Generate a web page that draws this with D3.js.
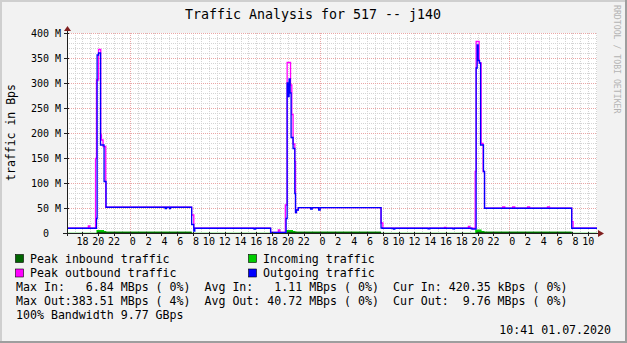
<!DOCTYPE html>
<html>
<head>
<meta charset="utf-8">
<script src="https://cdn.jsdelivr.net/npm/d3@7/dist/d3.min.js"></script>
<style>
  body { margin: 0; background: #f2f2f2; }
  text { font-family: "DejaVu Sans Mono", monospace; white-space: pre; }
</style>
</head>
<body>
<div id="chart"></div>
<script>
// hours are counted from the first midnight on the chart, values in MBps
var outData = [[-7.95, 9.5], [-4.22, 29], [-4.14, 356], [-3.96, 360], [-3.71, 176], [-3.26, 103], [-3.01, 51.5],
  [4.47, 49], [4.63, 51.5], [5.01, 49], [5.14, 51.5], [7.82, 17], [8.09, 4], [8.22, 9.5], [15.71, 8], [15.9, 9.5],
  [17.81, 1], [19.77, 29], [19.90, 300], [20.03, 273], [20.15, 308], [20.28, 280], [20.40, 191], [20.65, 169],
  [20.87, 79], [20.96, 41], [21.08, 46], [21.31, 50.7], [22.88, 48], [23.07, 50.7], [23.89, 46], [24.08, 50.7],
  [31.78, 10], [31.94, 9.5], [33.33, 8], [33.52, 9.5], [37.73, 8.5], [37.92, 9.5], [40.88, 8.5], [41.07, 9.5],
  [43.27, 8], [43.81, 330], [43.94, 376], [44.07, 345], [44.24, 340], [44.37, 176], [44.74, 123], [44.87, 49.5],
  [55.9, 9.5], [59.1, 9.5]];

var peakOutData = [[-7.95, 9.5], [-5.25, 14], [-5.06, 9.5], [-4.34, 149], [-4.22, 306], [-3.96, 367], [-3.68, 196],
  [-3.59, 186], [-3.39, 173], [-3.05, 51.5], [7.82, 36], [8.09, 9.5], [17.81, 1], [18.79, 6], [18.98, 1],
  [19.67, 56], [19.90, 341], [20.33, 296], [20.49, 237], [20.65, 178], [20.87, 143], [20.96, 41], [21.08, 46],
  [21.31, 50.7], [31.78, 20], [32.01, 9.5], [39.81, 11], [40.0, 9.5], [42.83, 13], [43.02, 9.5], [43.69, 123],
  [43.81, 383], [44.19, 340], [44.44, 179], [44.69, 123], [44.87, 49.5], [47.17, 52], [47.43, 49.5],
  [48.43, 52], [48.69, 49.5], [50.32, 52], [50.57, 49.5], [52.84, 52], [53.09, 49.5], [55.9, 22.7],
  [56.07, 9.5], [59.1, 9.5]];

var inData = [[-7.95, 0.4], [-4.22, 6], [-3.26, 4], [-3.01, 2.5], [7.82, 0.4], [19.77, 6], [20.65, 4],
  [20.96, 2.5], [31.78, 0.4], [43.69, 6.8], [44.5, 4], [44.87, 2.5], [55.9, 0.4], [59.1, 0.4]];

var peakInData = [[-7.95, 0], [-4.14, 2.5], [7.82, 0], [19.9, 2.5], [31.78, 0], [43.81, 2.5], [55.9, 0], [59.1, 0]];

var yTicks = [0, 50, 100, 150, 200, 250, 300, 350, 400];
var yTickLabels = ["0  ", "50 M", "100 M", "150 M", "200 M", "250 M", "300 M", "350 M", "400 M"];
var xLabelHours = d3.range(-6, 59, 2);

var legendItems = [
  { name: "Peak inbound traffic", color: "#006600" },
  { name: "Incoming traffic", color: "#00cc00" },
  { name: "Peak outbound traffic", color: "#ff00ff" },
  { name: "Outgoing traffic", color: "#0000ff" }
];
var statLines = [
  "Max In:   6.84 MBps ( 0%)  Avg In:   1.11 MBps ( 0%)  Cur In: 420.35 kBps ( 0%)",
  "Max Out:383.51 MBps ( 4%)  Avg Out: 40.72 MBps ( 0%)  Cur Out:  9.76 MBps ( 0%)",
  "100% Bandwidth 9.77 GBps"
];

var W = 627, H = 343;
var pLeft = 67, pRight = 597, pTop = 33, pBottom = 233;

var svg = d3.select('#chart').append('svg')
  .attr('width', W)
  .attr('height', H);

// background and 3d frame
svg.append('rect').attr('width', W).attr('height', H).attr('fill', '#f2f2f2');
svg.append('rect').attr('x', 0).attr('y', 0).attr('width', W).attr('height', 2).attr('fill', '#cfcfcf');
svg.append('rect').attr('x', 0).attr('y', 0).attr('width', 2).attr('height', H).attr('fill', '#cfcfcf');
svg.append('rect').attr('x', 0).attr('y', H - 2).attr('width', W).attr('height', 2).attr('fill', '#9e9e9e');
svg.append('rect').attr('x', W - 2).attr('y', 0).attr('width', 2).attr('height', H).attr('fill', '#9e9e9e');

var x = d3.scaleLinear().domain([-7.95, 59.1]).range([pLeft, pRight]);
var y = d3.scaleLinear().domain([0, 400]).range([pBottom, pTop]);

svg.append('rect')
  .attr('x', pLeft).attr('y', pTop)
  .attr('width', pRight - pLeft).attr('height', pBottom - pTop)
  .attr('fill', '#ffffff');

// grid
var grid = svg.append('g').attr('shape-rendering', 'crispEdges');
var hourLines = d3.range(-7, 60);
grid.selectAll('line.vmin')
  .data(hourLines.filter(function(h){ return h % 24 !== 0; }))
  .enter().append('line')
  .attr('x1', function(d){ return Math.round(x(d)) + 0.5; })
  .attr('x2', function(d){ return Math.round(x(d)) + 0.5; })
  .attr('y1', pTop).attr('y2', pBottom)
  .attr('stroke', '#d4d4d4').attr('stroke-dasharray', '1,1');
grid.selectAll('line.hmin')
  .data(d3.range(10, 401, 10).filter(function(v){ return v % 50 !== 0; }))
  .enter().append('line')
  .attr('x1', pLeft).attr('x2', pRight)
  .attr('y1', function(d){ return Math.round(y(d)) + 0.5; })
  .attr('y2', function(d){ return Math.round(y(d)) + 0.5; })
  .attr('stroke', '#d4d4d4').attr('stroke-dasharray', '1,1');
grid.selectAll('line.vmaj')
  .data(hourLines.filter(function(h){ return h % 24 === 0; }))
  .enter().append('line')
  .attr('x1', function(d){ return Math.round(x(d)) + 0.5; })
  .attr('x2', function(d){ return Math.round(x(d)) + 0.5; })
  .attr('y1', pTop).attr('y2', pBottom)
  .attr('stroke', '#eaa6a6').attr('stroke-dasharray', '1,1');
grid.selectAll('line.hmaj')
  .data(yTicks.filter(function(v){ return v > 0; }))
  .enter().append('line')
  .attr('x1', pLeft).attr('x2', pRight)
  .attr('y1', function(d){ return Math.round(y(d)) + 0.5; })
  .attr('y2', function(d){ return Math.round(y(d)) + 0.5; })
  .attr('stroke', '#eaa6a6').attr('stroke-dasharray', '1,1');

// data
var plot = svg.append('g');
var area = d3.area()
  .x(function(d){ return x(d[0]); })
  .y0(y(0))
  .y1(function(d){ return y(d[1]); })
  .curve(d3.curveStepAfter);
var line = d3.line()
  .x(function(d){ return x(d[0]); })
  .y(function(d){ return y(d[1]); })
  .curve(d3.curveStepAfter);

plot.append('path').attr('d', area(inData)).attr('fill', '#00cc00');
plot.append('path').attr('d', area(peakInData)).attr('fill', '#006600');
plot.append('path').attr('d', line(peakOutData))
  .attr('fill', 'none').attr('stroke', '#ff00ff').attr('stroke-width', 1.3);
plot.append('path').attr('d', line(outData))
  .attr('fill', 'none').attr('stroke', '#0000ff').attr('stroke-width', 1.3);

// axes
var axes = svg.append('g').attr('shape-rendering', 'crispEdges');
axes.append('line')
  .attr('x1', pLeft - 4).attr('x2', pRight + 2)
  .attr('y1', pBottom + 0.5).attr('y2', pBottom + 0.5)
  .attr('stroke', '#1f1f1f');
axes.append('line')
  .attr('x1', pLeft + 0.5).attr('x2', pLeft + 0.5)
  .attr('y1', pBottom + 3).attr('y2', pTop - 3)
  .attr('stroke', '#1f1f1f');
axes.selectAll('line.xt')
  .data(xLabelHours)
  .enter().append('line')
  .attr('x1', function(d){ return Math.round(x(d)) + 0.5; })
  .attr('x2', function(d){ return Math.round(x(d)) + 0.5; })
  .attr('y1', pBottom - 1).attr('y2', pBottom + 3)
  .attr('stroke', '#1f1f1f');
axes.selectAll('line.yt')
  .data(yTicks)
  .enter().append('line')
  .attr('x1', pLeft - 3).attr('x2', pLeft + 2)
  .attr('y1', function(d){ return Math.round(y(d)) + 0.5; })
  .attr('y2', function(d){ return Math.round(y(d)) + 0.5; })
  .attr('stroke', '#1f1f1f');
svg.append('path')
  .attr('d', 'M' + (pRight + 1) + ',' + (pBottom - 3) + 'L' + (pRight + 7) + ',' + (pBottom + 0.5) + 'L' + (pRight + 1) + ',' + (pBottom + 4) + 'Z')
  .attr('fill', '#801f1f');
svg.append('path')
  .attr('d', 'M' + (pLeft - 3) + ',' + (pTop - 2) + 'L' + (pLeft + 0.5) + ',' + (pTop - 7) + 'L' + (pLeft + 4) + ',' + (pTop - 2) + 'Z')
  .attr('fill', '#801f1f');

// tick labels
svg.selectAll('text.ylab')
  .data(yTicks)
  .enter().append('text')
  .attr('x', 61)
  .attr('y', function(d){ return y(d) + 3.7; })
  .attr('text-anchor', 'end')
  .attr('font-size', 10)
  .text(function(d, i){ return yTickLabels[i]; });

svg.selectAll('text.xlab')
  .data(xLabelHours)
  .enter().append('text')
  .attr('x', function(d){ return x(d); })
  .attr('y', 245)
  .attr('text-anchor', 'middle')
  .attr('font-size', 10)
  .text(function(d){
    var h = ((d % 24) + 24) % 24;
    return (h < 10 ? ' ' : '') + h;
  });

// title, axis title, watermark
svg.append('text')
  .attr('x', 313).attr('y', 18.5)
  .attr('text-anchor', 'middle')
  .attr('font-size', 13.3)
  .text('Traffic Analysis for 517 -- j140');
svg.append('text')
  .attr('transform', 'translate(15,132.5) rotate(-90)')
  .attr('text-anchor', 'middle')
  .attr('font-size', 11.5)
  .text('traffic in Bps');
svg.append('text')
  .attr('transform', 'translate(613.5,5) rotate(90)')
  .attr('font-size', 8.2)
  .attr('fill', '#b4b4b4')
  .text('RRDTOOL / TOBI OETIKER');

// legend
var legend = svg.selectAll('g.legend')
  .data(legendItems)
  .enter().append('g')
  .attr('transform', function(d, i){
    return 'translate(' + (i % 2 === 0 ? 15.5 : 248.5) + ',' + (254.5 + Math.floor(i / 2) * 14.5) + ')';
  });
legend.append('rect')
  .attr('width', 8).attr('height', 8)
  .attr('fill', function(d){ return d.color; })
  .attr('stroke', '#000').attr('stroke-width', 0.6);
legend.append('text')
  .attr('x', 14.5).attr('y', 8)
  .attr('font-size', 11.6)
  .text(function(d){ return d.name; });

svg.selectAll('text.stat')
  .data(statLines)
  .enter().append('text')
  .attr('x', 16)
  .attr('y', function(d, i){ return 290.8 + i * 14.2; })
  .attr('font-size', 11.6)
  .text(function(d){ return d; });

svg.append('text')
  .attr('x', 611).attr('y', 333.5)
  .attr('text-anchor', 'end')
  .attr('font-size', 11.6)
  .text('10:41 01.07.2020');
</script>
</body>
</html>
